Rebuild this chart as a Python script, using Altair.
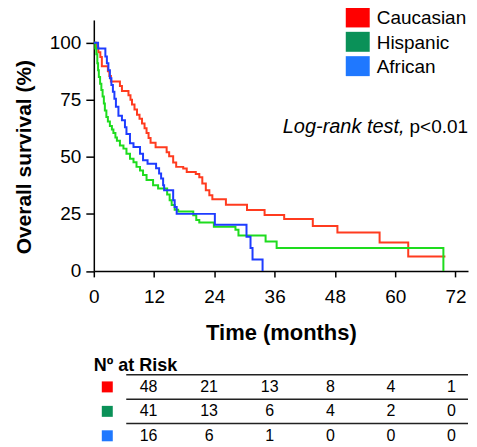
import altair as alt
import pandas as pd

FONT = "Liberation Sans"

groups = ["Caucasian", "Hispanic", "African"]
line_colors = ["#FF3B1F", "#1EDC1E", "#1E3CFF"]
legend_colors = ["#FF0000", "#0A9158", "#1F78FF"]

# Kaplan-Meier steps (months, survival % after the step)
red_t = [0, 0.5, 0.9, 1.3, 1.6, 2.8, 3.1, 3.4, 5.2, 5.6, 6.9, 7.3, 7.6, 8.1, 8.6,
         9.1, 9.6, 10.1, 10.5, 10.9, 11.3, 12.3, 14.5, 15.0, 15.8, 16.4, 17.8, 18.5,
         20.3, 21.0, 21.6, 22.3, 23.0, 23.6, 26.3, 30.5, 34.0, 37.9, 43.6, 48.5,
         56.9, 62.6, 70.0]
red_s = [100, 97.9, 95.8, 93.8, 89.7, 87.5, 85.4, 83.0, 81.0, 78.9, 77.0, 75.0, 72.9,
         70.8, 68.5, 66.7, 64.6, 62.5, 60.4, 58.3, 56.2, 54.2, 52.0, 50.3, 47.5, 45.6,
         44.9, 43.4, 42.5, 41.0, 38.3, 35.4, 33.2, 31.4, 29.0, 26.7, 24.5, 22.7, 19.7,
         16.8, 12.5, 6.3, 6.3]

green_t = [0, 0.3, 0.5, 0.7, 0.85, 1.0, 1.25, 1.5, 1.75, 2.0, 2.2, 2.5, 2.8, 3.2, 3.6,
           3.9, 4.3, 4.6, 5.2, 5.9, 6.5, 7.2, 7.9, 8.5, 9.2, 9.8, 10.5, 11.8, 12.8, 14.6,
           15.1, 15.5, 16.1, 16.8, 19.8, 20.4, 21.0, 23.9, 28.2, 28.8, 34.2, 36.4, 69.6]
green_s = [100, 97.5, 95, 91, 88, 85, 82, 79.3, 76.5, 73.4, 70.3, 67.5, 65.5, 63.5, 62,
           60.5, 58.5, 57, 55, 53.6, 51.4, 49.2, 47.6, 45.6, 44, 42, 39.8, 37.6, 36.1,
           33.5, 31, 28.9, 26.8, 26.0, 24.4, 22.3, 21.2, 19.4, 18.0, 15.5, 12.9, 10.0, 0]

blue_t = [0, 0.85, 2.3, 2.6, 2.9, 3.2, 3.5, 3.8, 4.1, 4.4, 4.9, 5.6, 6.2, 6.5, 7.2, 7.9,
          9.2, 9.8, 10.7, 12.4, 13.0, 13.4, 13.8, 14.0, 15.8, 16.1, 16.5, 24.1, 30.4,
          31.2, 31.6, 33.6]
blue_s = [100, 97.5, 94, 91, 88, 84.5, 81.5, 78.5, 75.5, 72, 68, 66, 63, 60, 56, 54.3,
          51.4, 48.5, 47, 45, 42.7, 40.5, 37.6, 35.4, 31, 28, 25, 20.2, 15, 10, 5, 0]

x_ticks = [0, 12, 24, 36, 48, 60, 72]
y_ticks = [0, 25, 50, 75, 100]

annotation = ["Log-rank test,", "p<0.01"]

risk_times = [0, 12, 24, 36, 48, 60]
risk_caucasian = [48, 21, 13, 8, 4, 1]
risk_hispanic = [41, 13, 6, 4, 2, 0]
risk_african = [16, 6, 1, 0, 0, 0]

# ---------------- data frames ----------------
rows = []
for g, ts, ss in zip(groups, [red_t, green_t, blue_t], [red_s, green_s, blue_s]):
    for t, s in zip(ts, ss):
        rows.append({"group": g, "time": t, "surv": s})
km = pd.DataFrame(rows)

risk_rows = []
for i, (g, vals) in enumerate(zip(groups, [risk_caucasian, risk_hispanic, risk_african])):
    for t, n in zip(risk_times, vals):
        risk_rows.append({"group": g, "row": i, "time": t, "n": n})
risk = pd.DataFrame(risk_rows)

rect_path = "M-1.2,-1H1.2V1H-1.2Z"
PW = 375

x_scale = alt.Scale(domain=[0, 74.5], nice=False, zero=False)
y_scale = alt.Scale(domain=[0, 110], nice=False, zero=False)

x_axis = alt.Axis(values=x_ticks, title="Time (months)", titleFontSize=22,
                  titleFontWeight="bold", titlePadding=16, labelFontSize=19,
                  labelPadding=11, tickSize=6, tickWidth=1.5, domainWidth=1.5,
                  domainColor="black", tickColor="black", labelColor="black",
                  titleColor="black", grid=False, labelFlush=False, labelFont=FONT,
                  titleFont=FONT)
y_axis = alt.Axis(values=y_ticks, title="Overall survival (%)", titleFontSize=21,
                  titleFontWeight="bold", titlePadding=15, labelFontSize=19,
                  labelPadding=5, tickSize=8, tickWidth=1.5, domainWidth=1.5,
                  domainColor="black", tickColor="black", labelColor="black",
                  titleColor="black", grid=False, labelFont=FONT,
                  titleFont=FONT, titleY=137)

lines = alt.Chart(km).mark_line(interpolate="step-after", strokeWidth=2).encode(
    x=alt.X("time:Q", scale=x_scale, axis=x_axis),
    y=alt.Y("surv:Q", scale=y_scale, axis=y_axis),
    stroke=alt.Stroke("group:N", scale=alt.Scale(domain=groups, range=line_colors),
                      legend=None),
)

# legend drawn as marks (squares + labels), rows placed by a point scale
leg_df = pd.DataFrame({"Group": groups})
leg_y = alt.Y("Group:N", scale=alt.Scale(type="point", domain=groups,
                                         range=[-2.5, 46.3], padding=0), axis=None)
leg_sq = alt.Chart(leg_df).mark_point(
    shape=rect_path, filled=True, size=400, opacity=1, strokeWidth=0
).encode(
    x=alt.value(264.5),
    y=leg_y,
    fill=alt.Fill("Group:N", scale=alt.Scale(domain=groups, range=legend_colors),
                  legend=None),
)
leg_txt = alt.Chart(leg_df).mark_text(
    align="left", baseline="middle", fontSize=19, color="black", font=FONT, dy=1
).encode(x=alt.value(283.5), y=leg_y, text="Group:N")

ann_df = pd.DataFrame({"label": annotation, "part": [0, 1]})
ann_italic = alt.Chart(ann_df).transform_filter("datum.part == 0").mark_text(
    fontStyle="italic", align="right", baseline="alphabetic", fontSize=20, dx=-63.5,
    color="black", font=FONT
).encode(x=alt.value(PW), y=alt.value(113.5), text="label:N")
ann_plain = alt.Chart(ann_df).transform_filter("datum.part == 1").mark_text(
    align="right", baseline="alphabetic", fontSize=19, color="black", font=FONT
).encode(x=alt.value(PW), y=alt.value(113.5), text="label:N")

main = alt.layer(lines, ann_italic, ann_plain, leg_sq, leg_txt).resolve_scale(
    y="independent"
).properties(width=PW, height=251.5)

# ---------------- at-risk table ----------------
tx = alt.Scale(domain=[-10.83, 63.26], nice=False, zero=False)
ty = alt.Scale(domain=[0, 3], reverse=True, nice=False, zero=False)

tbl_text = alt.Chart(risk).transform_calculate(yc="datum.row + 0.5").mark_text(
    fontSize=16, baseline="middle", color="black", font=FONT
).encode(
    x=alt.X("time:Q", scale=tx, axis=None),
    y=alt.Y("yc:Q", scale=ty, axis=None),
    text="n:Q",
)

sq_df = pd.DataFrame({"group": groups, "row": [0, 1, 2]})
tbl_sq = alt.Chart(sq_df).transform_calculate(yc="datum.row + 0.5").mark_square(
    size=121, filled=True, opacity=1
).encode(
    x=alt.value(13.5),
    y=alt.Y("yc:Q", scale=ty, axis=None),
    color=alt.Color("group:N", scale=alt.Scale(domain=groups, range=legend_colors),
                    legend=None),
)

rule_df = pd.DataFrame({"b": [0, 1, 2, 3]})
tbl_rules = alt.Chart(rule_df).mark_rule(strokeWidth=1.5, color="#222222").encode(
    y=alt.Y("b:Q", scale=ty, axis=None),
    x=alt.value(32.5),
    x2=alt.value(PW),
)

table = alt.layer(tbl_rules, tbl_sq, tbl_text).properties(
    width=PW, height=73.5,
    title=alt.TitleParams("Nº at Risk", anchor="start", fontSize=18,
                          fontWeight="bold", offset=-1, font=FONT, color="black"),
)

chart = alt.vconcat(main, table, spacing=12.5).resolve_scale(
    fill="independent", color="independent", stroke="independent"
).properties(
    padding={"left": 5, "top": -1.5, "right": 0, "bottom": 0}
).configure(font=FONT).configure_view(stroke=None)

chart.save("out.html", embed_options={"renderer": "svg", "actions": False})
